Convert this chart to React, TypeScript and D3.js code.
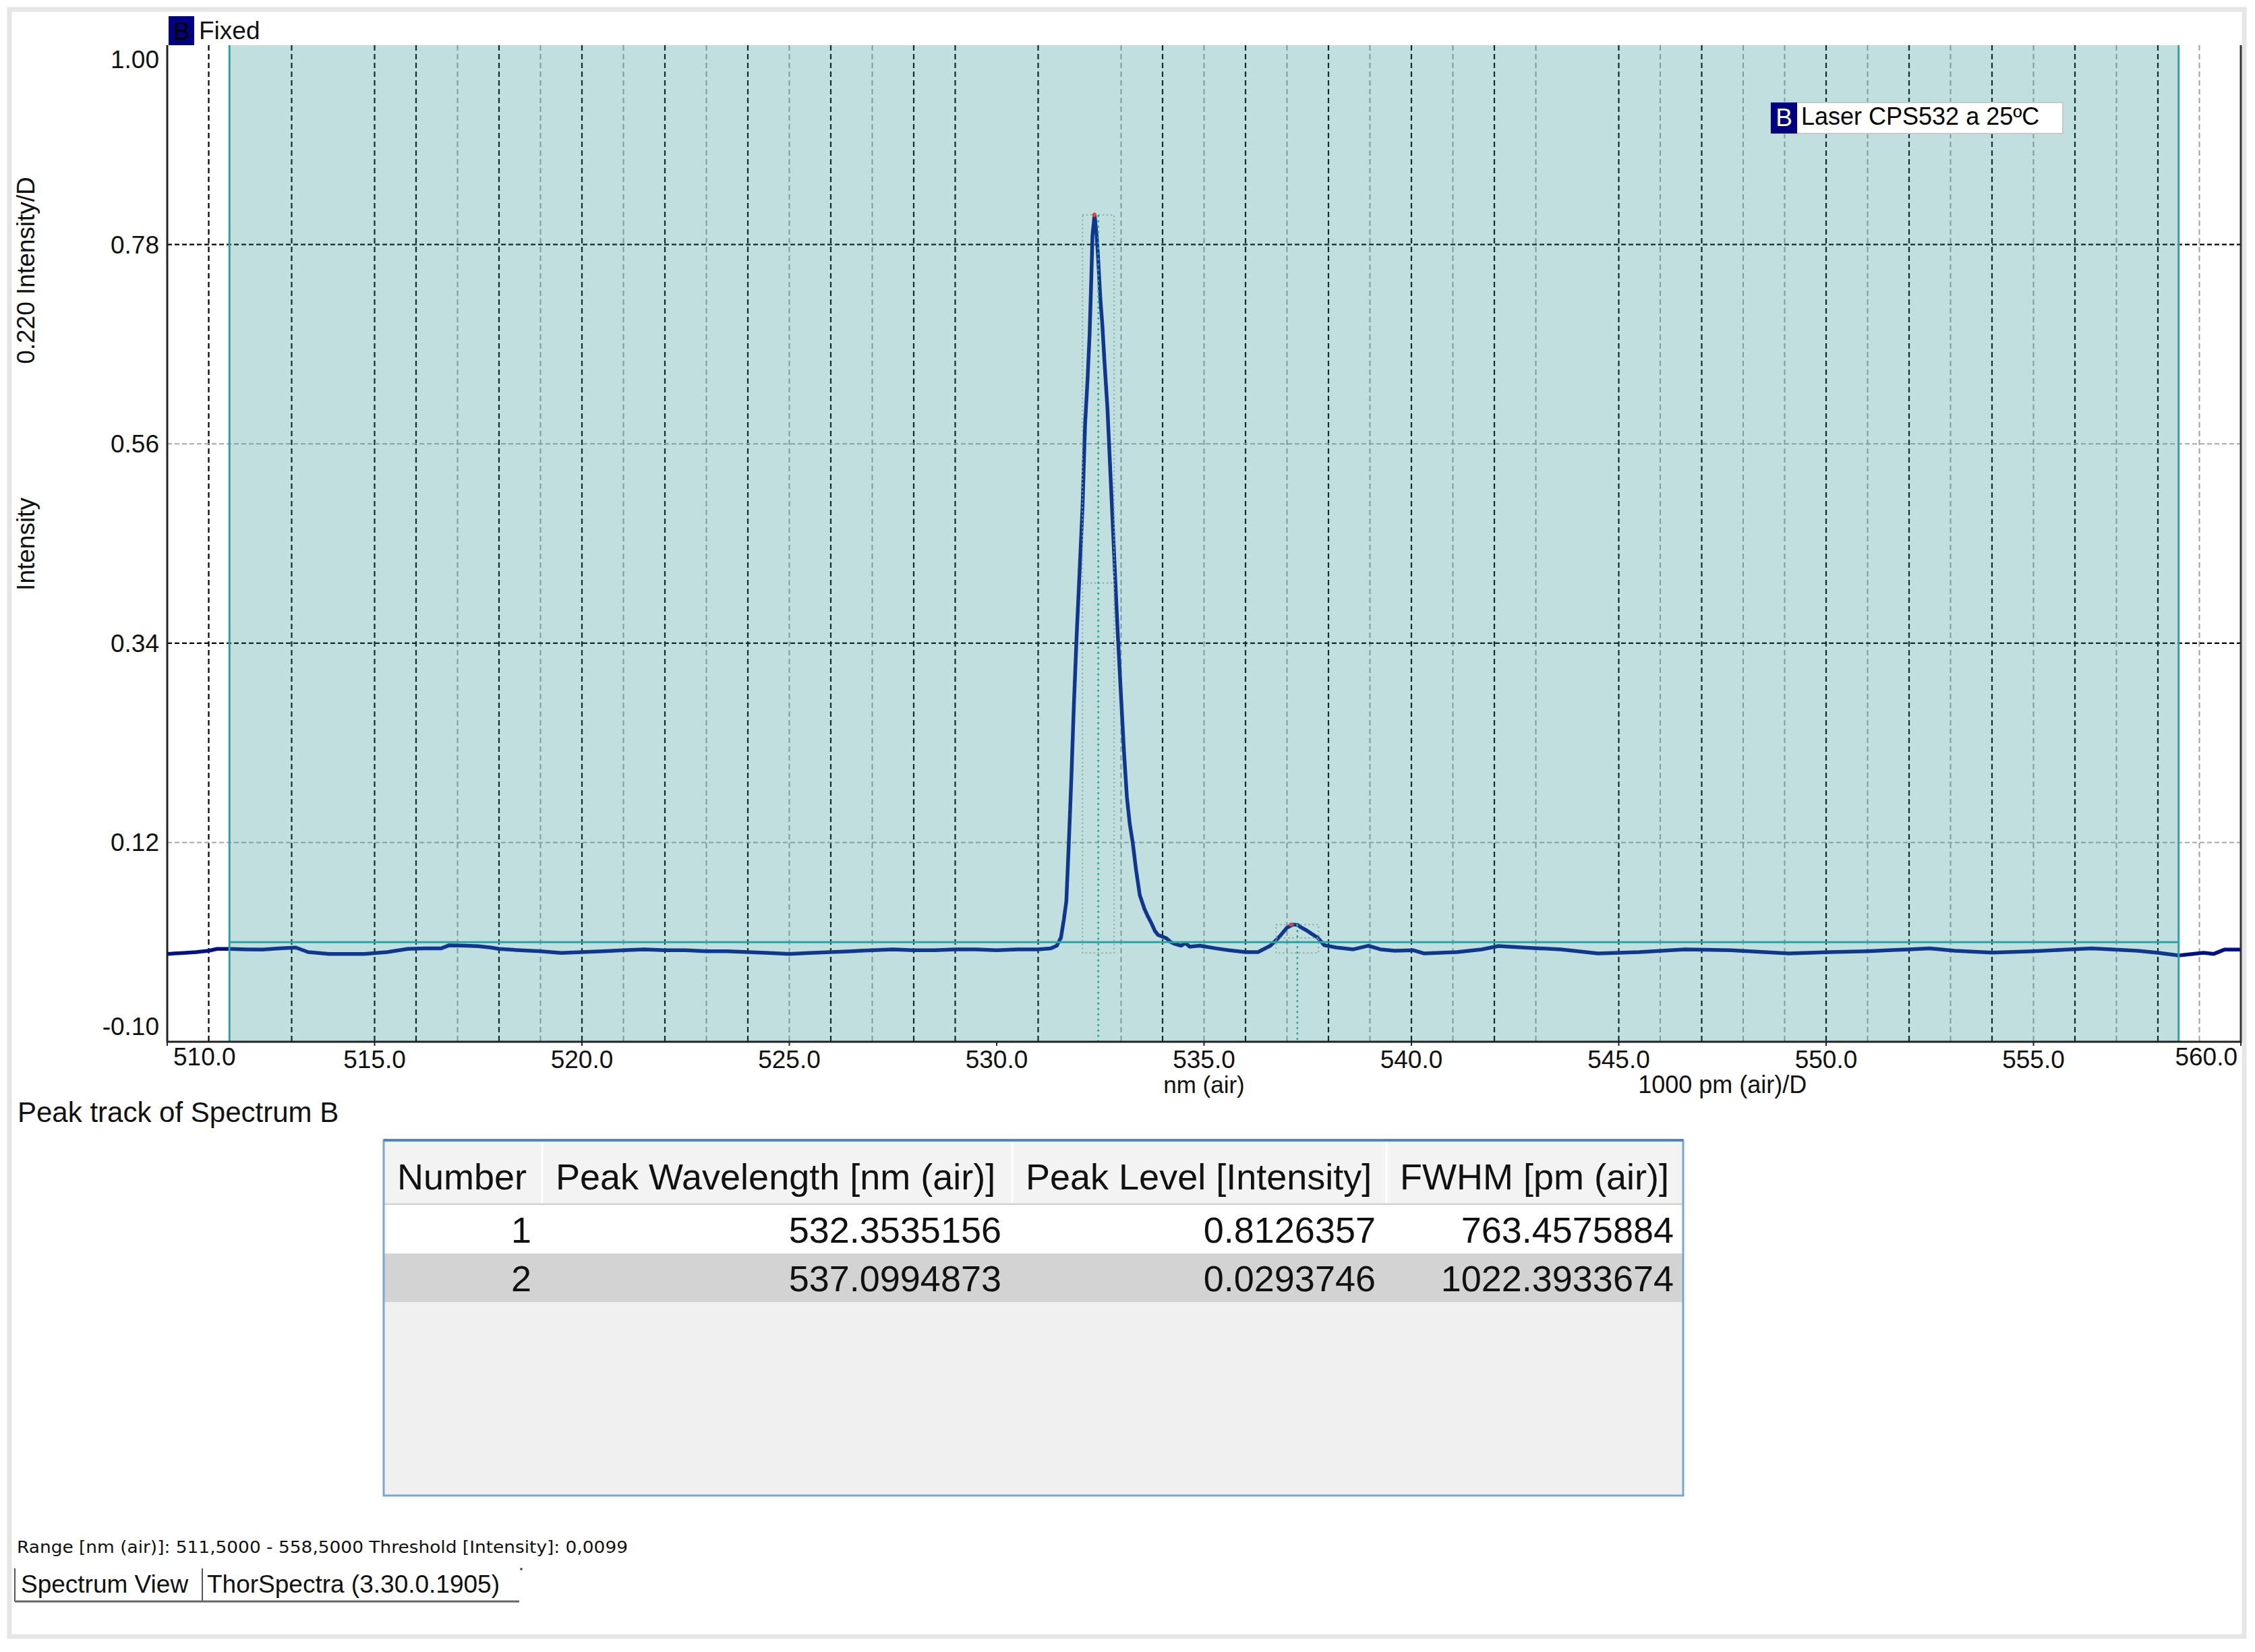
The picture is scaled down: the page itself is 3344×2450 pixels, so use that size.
import React from "react";
import * as d3 from "d3";

// ---------- data ----------
const wavelength = [
  510.0, 510.4, 510.7, 511.0, 511.2, 511.5, 511.9, 512.3, 512.7, 513.1, 513.4, 513.9, 514.3, 514.75,
  515.3, 515.8, 516.2, 516.6, 516.8, 517.2, 517.5, 517.8, 518.0, 518.5, 519.0, 519.5, 520.0, 520.5,
  521.0, 521.5, 522.0, 522.5, 523.0, 523.5, 524.0, 524.5, 525.0, 525.5, 526.0, 526.5, 527.0, 527.5,
  528.0, 528.5, 529.0, 529.5, 530.0, 530.5, 531.0, 531.3, 531.45, 531.55, 531.62, 531.68, 531.74,
  531.8, 531.86, 531.93, 532.0, 532.07, 532.13, 532.19, 532.24, 532.28, 532.31, 532.36, 532.41,
  532.44, 532.5, 532.55, 532.6, 532.67, 532.72, 532.77, 532.85, 532.92, 533.0, 533.07, 533.14,
  533.21, 533.28, 533.36, 533.45, 533.56, 533.65, 533.74, 533.82, 533.89, 534.0, 534.1, 534.2,
  534.3, 534.45, 534.55, 534.65, 534.9, 535.3, 535.6, 536.0, 536.3, 536.6, 536.8, 537.0, 537.15,
  537.25, 537.35, 537.47, 537.6, 537.74, 537.9, 538.2, 538.6, 538.96, 539.25, 539.6, 540.05, 540.3,
  541.1, 541.7, 542.1, 542.7, 543.6, 544.5, 545.5, 546.6, 547.7, 549.1, 550.1, 551.0, 552.0, 552.5,
  553.1, 554.0, 555.0, 555.8, 556.4, 557.5, 558.0, 558.5, 559.1, 559.35, 559.6, 560.0,
];
const intensity = [
  -0.003, -0.002, -0.001, 0.0005, 0.0025, 0.0025, 0.002, 0.0017, 0.003, 0.004, -0.001, -0.003, -0.003,
  -0.003, -0.001, 0.0025, 0.003, 0.003, 0.0065, 0.006, 0.0055, 0.004, 0.0025, 0.001, 0.0, -0.002,
  -0.001, 0.0, 0.001, 0.002, 0.001, 0.001, 0.0, 0.0, -0.001, -0.002, -0.003, -0.002, -0.001, 0.0,
  0.001, 0.002, 0.001, 0.001, 0.002, 0.002, 0.001, 0.002, 0.002, 0.003, 0.006, 0.015, 0.035, 0.055,
  0.12, 0.19, 0.27, 0.35, 0.42, 0.49, 0.58, 0.63, 0.68, 0.74, 0.79, 0.813, 0.79, 0.77, 0.72, 0.69,
  0.65, 0.6, 0.55, 0.5, 0.42, 0.35, 0.28, 0.22, 0.17, 0.14, 0.12, 0.09, 0.062, 0.047, 0.038, 0.03,
  0.022, 0.018, 0.016, 0.014, 0.01, 0.008, 0.006, 0.009, 0.005, 0.006, 0.003, 0.001, -0.001, -0.001,
  0.006, 0.015, 0.026, 0.0294, 0.029, 0.026, 0.023, 0.019, 0.015, 0.0065, 0.004, 0.002, 0.006, 0.002,
  0.0005, 0.001, -0.0025, -0.001, 0.002, 0.0057, 0.004, 0.002, -0.0025, -0.001, 0.002, 0.001,
  -0.0025, -0.001, 0.0, 0.002, 0.003, 0.0005, -0.0015, 0.0, 0.0017, 0.003, 0.0005, -0.0017, -0.0047,
  -0.0017, -0.003, 0.0017, 0.0017,
];

const xDomain = [510, 560];
const yDomain = [-0.1, 1.0];
const xTicks = [510, 515, 520, 525, 530, 535, 540, 545, 550, 555, 560];
const yTicks = [-0.1, 0.12, 0.34, 0.56, 0.78, 1.0];
const yGridDark = [0.78, 0.34];
const yGridLight = [0.56, 0.12];
const xGridDark = [511, 513, 515, 516, 518, 520, 522, 524, 526, 528, 529, 531, 534, 536, 538, 540, 542, 545, 547, 550, 552, 554, 556, 558];
const xGridLight = [517, 519, 521, 523, 525, 527, 533, 535, 537, 539, 541, 543, 546, 548, 549, 551, 553, 555, 557, 559];

const rangeStart = 511.5;
const rangeEnd = 558.5;
const threshold = 0.0099;

const peakNumber = [1, 2];
const peakWavelength = [532.3535156, 537.0994873];
const peakLevel = [0.8126357, 0.0293746];
const peakFwhmPm = [763.4575884, 1022.3933674];
const peakBoxCenter = [532.45, 537.25];
const peakBase = [-0.002, -0.002];

const tableHeaders = ["Number", "Peak Wavelength [nm (air)]", "Peak Level [Intensity]", "FWHM [pm (air)]"];

const seriesName = "Laser CPS532 a 25ºC";
const seriesLetter = "B";
const fixedLabel = "Fixed";
const yTitleTop = "0.220 Intensity/D";
const yTitleBottom = "Intensity";
const xTitle = "nm (air)";
const xTitle2 = "1000 pm (air)/D";
const peakTitle = "Peak track of Spectrum B";
const rangeText = "Range [nm (air)]: 511,5000 - 558,5000  Threshold [Intensity]: 0,0099";
const tabs = ["Spectrum View", "ThorSpectra (3.30.0.1905)"];

// ---------- layout ----------
const W = 3344;
const H = 2450;
const PL = 248, PR = 3323, PT = 67, PB = 1545;
const FONT = "'Liberation Sans', Arial, sans-serif";

export default function App() {
  const x = d3.scaleLinear().domain(xDomain).range([PL, PR]);
  const y = d3.scaleLinear().domain(yDomain).range([PB, PT]);
  const pts: [number, number][] = wavelength.map((w, i) => [w, intensity[i]]);
  const line = d3.line<[number, number]>().x((d) => x(d[0])).y((d) => y(d[1])).curve(d3.curveLinear);

  // table geometry
  const tL = 569, tR = 2496, tT = 1691, tB = 2218;
  const colEdges = [569, 804, 1501, 2056, 2496];
  const headerB = 1786;
  const rowH = 72;
  const rows = peakNumber.map((n, i) => [
    String(n),
    peakWavelength[i].toFixed(7),
    peakLevel[i].toFixed(7),
    peakFwhmPm[i].toFixed(7),
  ]);

  return (
    <svg
      width={W}
      height={H}
      viewBox={`0 0 ${W} ${H}`}
      style={{ position: "absolute", left: 0, top: 0, background: "#fff" }}
      fontFamily={FONT}
    >
      <defs>
        <clipPath id="plotClip">
          <rect x={PL} y={PT} width={PR - PL} height={PB - PT} />
        </clipPath>
      </defs>
      <rect x={0} y={0} width={W} height={H} fill="#fff" />
      {/* outer frame */}
      <rect x={14} y={14} width={3314} height={2413} fill="#fff" stroke="#e6e6e6" strokeWidth={7} />

      {/* grid vertical */}
      {xGridDark.map((g) => (
        <line key={"xd" + g} x1={x(g)} x2={x(g)} y1={PT} y2={PB} stroke="#000" strokeWidth={2.2} strokeDasharray="8,5" />
      ))}
      {xGridLight.map((g) => (
        <line key={"xl" + g} x1={x(g)} x2={x(g)} y1={PT} y2={PB} stroke="#a0a0a0" strokeWidth={2} strokeDasharray="8,5" />
      ))}
      {/* grid horizontal */}
      {yGridDark.map((g) => (
        <line key={"yd" + g} x1={PL} x2={PR} y1={y(g)} y2={y(g)} stroke="#000" strokeWidth={2.2} strokeDasharray="7,4" />
      ))}
      {yGridLight.map((g) => (
        <line key={"yl" + g} x1={PL} x2={PR} y1={y(g)} y2={y(g)} stroke="#a8a8a8" strokeWidth={2} strokeDasharray="7,4" />
      ))}

      {/* spectrum */}
      <path d={line(pts) || ""} fill="none" stroke="#000f8a" strokeWidth={5.5} strokeLinejoin="round" clipPath="url(#plotClip)" />

      {/* peak range overlay */}
      <rect x={x(rangeStart)} y={PT} width={x(rangeEnd) - x(rangeStart)} height={PB - PT} fill="rgb(52,148,152)" fillOpacity={0.3} />
      <line x1={x(rangeStart)} x2={x(rangeStart)} y1={PT} y2={PB} stroke="#33a0a0" strokeWidth={3} />
      <line x1={x(rangeEnd)} x2={x(rangeEnd)} y1={PT} y2={PB} stroke="#33a0a0" strokeWidth={3} />
      <line x1={x(rangeStart)} x2={x(rangeEnd)} y1={y(threshold)} y2={y(threshold)} stroke="#33a0a0" strokeWidth={3} />

      {/* peak markers */}
      {peakNumber.map((n, i) => {
        const half = peakFwhmPm[i] / 1000 / 2;
        const x0 = x(peakBoxCenter[i] - half);
        const x1 = x(peakBoxCenter[i] + half);
        const yt = y(peakLevel[i]);
        const yb = y(peakBase[i]);
        const yh = y(peakLevel[i] / 2);
        return (
          <g key={"pk" + n}>
            <rect x={x0} y={yt} width={x1 - x0} height={yb - yt} fill="none" stroke="#8ca4a4" strokeWidth={2} strokeDasharray="2,4" />
            <line x1={x0} x2={x1} y1={yh} y2={yh} stroke="#8ca4a4" strokeWidth={2} strokeDasharray="2,4" />
            <line x1={x(peakBoxCenter[i])} x2={x(peakBoxCenter[i])} y1={yt} y2={PB} stroke="#12b08e" strokeWidth={2.5} strokeDasharray="3,5" />
            <circle cx={x(peakWavelength[i])} cy={y(peakLevel[i])} r={3} fill="#e04040" />
          </g>
        );
      })}

      {/* axes */}
      <line x1={PL} x2={PL} y1={PT} y2={PB + 1} stroke="#222" strokeWidth={3} />
      <line x1={PR} x2={PR} y1={PT} y2={PB + 1} stroke="#333" strokeWidth={3} />
      <line x1={PL} x2={PR} y1={PB} y2={PB} stroke="#222" strokeWidth={3} />
      {xTicks.map((t, i) => {
        const anchor = i === 0 ? "start" : i === xTicks.length - 1 ? "end" : "middle";
        const tx = i === 0 ? x(t) + 9 : i === xTicks.length - 1 ? x(t) - 5 : x(t);
        return (
          <g key={"xt" + t}>
            <line x1={x(t)} x2={x(t)} y1={PB} y2={PB + 6} stroke="#222" strokeWidth={2} />
            <text x={tx} y={i === 0 || i === xTicks.length - 1 ? 1580 : 1584} fontSize={37} textAnchor={anchor} fill="#111">
              {t.toFixed(1)}
            </text>
          </g>
        );
      })}
      {yTicks.map((t) => {
        const cy = Math.min(Math.max(y(t), PT + 21), PB - 23);
        return (
          <text key={"yt" + t} x={236} y={cy} dy="0.35em" fontSize={37} textAnchor="end" fill="#111">
            {t.toFixed(2)}
          </text>
        );
      })}
      <text x={(PL + PR) / 2} y={1621} fontSize={35} textAnchor="middle" fill="#111">{xTitle}</text>
      <text x={PL + (PR - PL) * 0.75} y={1621} fontSize={36} textAnchor="middle" fill="#111">{xTitle2}</text>
      <text transform="translate(38,401) rotate(-90)" fontSize={37} textAnchor="middle" dy="0.35em" fill="#111">{yTitleTop}</text>
      <text transform="translate(38,807) rotate(-90)" fontSize={37} textAnchor="middle" dy="0.35em" fill="#111">{yTitleBottom}</text>

      {/* Fixed legend */}
      <rect x={250} y={24} width={38} height={43} fill="#000080" />
      <text x={269} y={59} fontSize={37} textAnchor="middle" fill="#000">{seriesLetter}</text>
      <text x={295} y={58} fontSize={37} fill="#111">{fixedLabel}</text>

      {/* series legend */}
      <rect x={2626} y={152} width={433} height={46} fill="#fff" stroke="#c8c8c8" strokeWidth={2} />
      <rect x={2626} y={152} width={39} height={46} fill="#000080" />
      <text x={2645.5} y={187} fontSize={37} textAnchor="middle" fill="#fff">{seriesLetter}</text>
      <text x={2671} y={185} fontSize={36} fill="#000">{seriesName}</text>

      {/* Peak table */}
      <text x={26} y={1664} fontSize={42} fill="#111">{peakTitle}</text>
      <rect x={tL} y={tT} width={tR - tL} height={tB - tT} fill="#f0f0f0" />
      <rect x={tL} y={tT} width={tR - tL} height={headerB - tT} fill="#f3f3f3" />
      {colEdges.slice(1, -1).map((c) => (
        <line key={"ce" + c} x1={c} x2={c} y1={tT + 2} y2={headerB} stroke="#fdfdfd" strokeWidth={3} />
      ))}
      <line x1={tL} x2={tR} y1={headerB} y2={headerB} stroke="#d2d2d2" strokeWidth={3} />
      {rows.map((r, i) => (
        <rect key={"rb" + i} x={tL + 1} y={headerB + 1 + i * rowH} width={tR - tL - 2} height={rowH} fill={i % 2 === 0 ? "#ffffff" : "#d3d3d3"} />
      ))}
      <rect x={tL} y={tT} width={tR - tL} height={tB - tT} fill="none" stroke="#7aa6d4" strokeWidth={3} />
      <line x1={tL} x2={tR} y1={tT} y2={tT} stroke="#4f86c0" strokeWidth={4} />
      {tableHeaders.map((h, j) => (
        <text key={"th" + j} x={colEdges[j] + 20} y={1764} fontSize={54} fill="#111">{h}</text>
      ))}
      {rows.map((r, i) =>
        r.map((v, j) => (
          <text key={"td" + i + "-" + j} x={colEdges[j + 1] - (j === 3 ? 14 : 16)} y={1843 + i * rowH} fontSize={54} textAnchor="end" fill="#111">
            {v}
          </text>
        ))
      )}

      {/* footer */}
      <text x={25} y={2303} fontSize={25} fontFamily="'DejaVu Sans', Verdana, sans-serif" textLength={906} lengthAdjust="spacingAndGlyphs" fill="#111">
        {rangeText}
      </text>
      <line x1={22} x2={22} y1={2326} y2={2375} stroke="#555" strokeWidth={2} />
      <line x1={300} x2={300} y1={2326} y2={2375} stroke="#555" strokeWidth={2} />
      <line x1={22} x2={770} y1={2375} y2={2375} stroke="#666" strokeWidth={3} />
      <circle cx={773} cy={2327} r={1.8} fill="#333" />
      <text x={31} y={2362} fontSize={37} fill="#111">{tabs[0]}</text>
      <text x={307} y={2362} fontSize={37} fill="#111">{tabs[1]}</text>
    </svg>
  );
}
